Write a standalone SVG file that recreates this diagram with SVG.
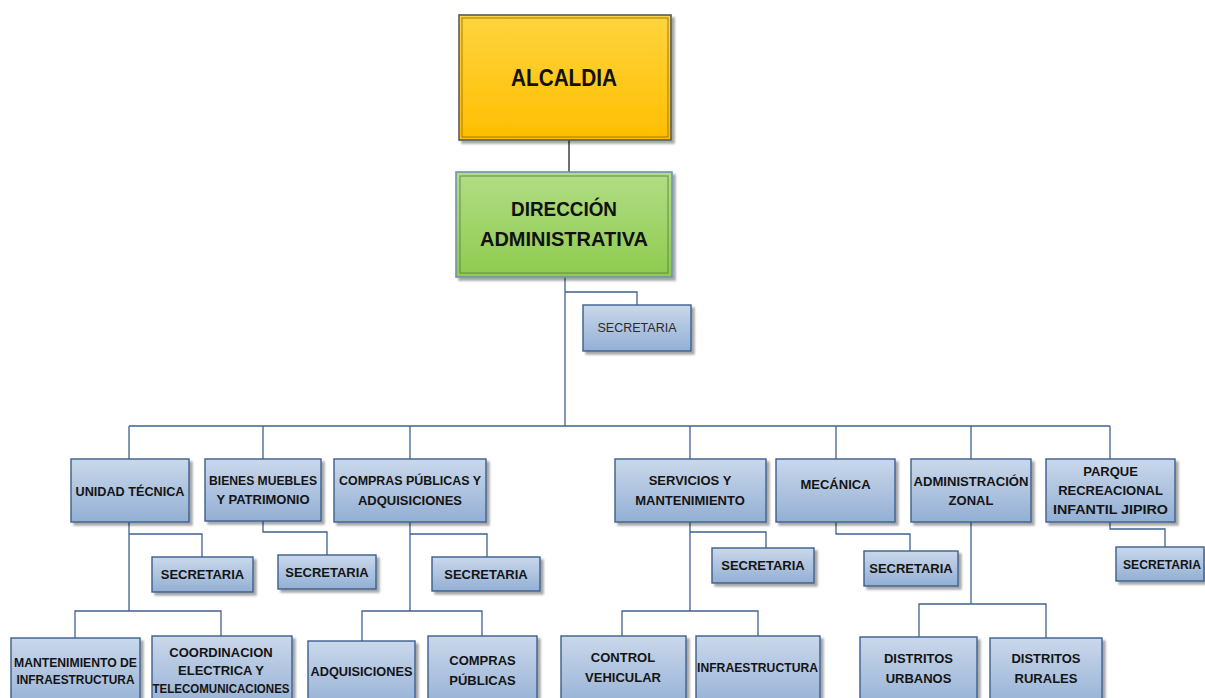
<svg xmlns="http://www.w3.org/2000/svg" width="1205" height="698" viewBox="0 0 1205 698">
  <defs>
    <linearGradient id="gBlue" x1="0" y1="0" x2="0" y2="1">
      <stop offset="0" stop-color="#CAD8EB"/>
      <stop offset="1" stop-color="#93AFD4"/>
    </linearGradient>
    <linearGradient id="gGold" x1="0" y1="0" x2="0" y2="1">
      <stop offset="0" stop-color="#FFD43F"/>
      <stop offset="1" stop-color="#FFBE00"/>
    </linearGradient>
    <linearGradient id="gGreen" x1="0" y1="0" x2="0" y2="1">
      <stop offset="0" stop-color="#B2DD86"/>
      <stop offset="1" stop-color="#8ECB4E"/>
    </linearGradient>
    <filter id="shadow" x="-10%" y="-10%" width="130%" height="130%">
      <feDropShadow dx="3" dy="3" stdDeviation="1.2" flood-color="#000" flood-opacity="0.35"/>
    </filter>
  </defs>
  <style>
    .box { fill: url(#gBlue); stroke: #3B5E8C; stroke-width: 1.4; filter: url(#shadow); }
    .lbl { font-family: "Liberation Sans", Arial, sans-serif; font-weight: bold; font-size: 13px; fill: #141414; text-anchor: middle; }
    .lbl-plain { font-family: "Liberation Sans", Arial, sans-serif; font-size: 12.5px; fill: #2a2a2a; text-anchor: middle; }
    .big { font-family: "Liberation Sans", Arial, sans-serif; font-weight: bold; fill: #111; text-anchor: middle; }
    .wire { fill: none; stroke: #3F6190; stroke-width: 1.3; }
  </style>
  <rect width="1205" height="698" fill="#ffffff"/>

  <!-- connectors -->
  <g id="connectors">
    <path d="M569,140 V172" fill="none" stroke="#222" stroke-width="1.3"/>
    <path class="wire" d="M565,277 V426 M565,292 H637 V305"/>
    <path class="wire" d="M129,426 H1110 M129,426 V459 M263,426 V459 M410,426 V459 M690,426 V459 M836,426 V459 M971,426 V459 M1110,426 V459"/>
    <path class="wire" d="M129,522 V611 M129,534 H202 V557 M75,638 V611 H221 V636"/>
    <path class="wire" d="M263,521 V532 H327 V555"/>
    <path class="wire" d="M410,522 V611 M410,534 H487 V557 M362,641 V611 H482 V636"/>
    <path class="wire" d="M690,522 V611 M690,532 H766 V548 M622,636 V611 H758 V636"/>
    <path class="wire" d="M836,522 V534 H910 V551"/>
    <path class="wire" d="M971,522 V604 M919,637 V604 H1046 V638"/>
    <path class="wire" d="M1110,522 V529 H1165 V547"/>
  </g>

  <!-- top level -->
  <g id="alcaldia">
    <rect x="459" y="15" width="212" height="125" fill="url(#gGold)" stroke="#5A5A5A" stroke-width="1.6" filter="url(#shadow)"/>
    <rect x="462" y="18" width="206" height="119" fill="none" stroke="#8A6A00" stroke-width="0.8"/>
    <text class="big" x="564" y="86" font-size="24" textLength="106" lengthAdjust="spacingAndGlyphs">ALCALDIA</text>
  </g>

  <g id="direccion">
    <rect x="456" y="172" width="216" height="105" fill="url(#gGreen)" stroke="#6F92B4" stroke-width="1.6" filter="url(#shadow)"/>
    <rect x="460" y="176" width="208" height="97" fill="none" stroke="#5E7F4A" stroke-width="0.9"/>
    <text class="big" x="564" y="216" font-size="21" textLength="106" lengthAdjust="spacingAndGlyphs">DIRECCIÓN</text>
    <text class="big" x="564" y="246" font-size="21" textLength="168" lengthAdjust="spacingAndGlyphs">ADMINISTRATIVA</text>
  </g>

  <g id="secretaria-direccion">
    <rect class="box" x="583" y="305" width="108" height="46"/>
    <text class="lbl-plain" x="637" y="332">SECRETARIA</text>
  </g>

  <!-- departments -->
  <g id="unidad-tecnica">
    <rect class="box" x="71" y="459" width="118" height="63"/>
    <text class="lbl" x="130" y="496" textLength="109" lengthAdjust="spacingAndGlyphs">UNIDAD TÉCNICA</text>
  </g>
  <g id="bienes-muebles">
    <rect class="box" x="205" y="459" width="116" height="62"/>
    <text class="lbl" x="263" y="485" textLength="108" lengthAdjust="spacingAndGlyphs">BIENES MUEBLES</text>
    <text class="lbl" x="263" y="504">Y PATRIMONIO</text>
  </g>
  <g id="compras-publicas-adquisiciones">
    <rect class="box" x="334" y="459" width="152" height="63"/>
    <text class="lbl" x="410" y="485" textLength="142" lengthAdjust="spacingAndGlyphs">COMPRAS PÚBLICAS Y</text>
    <text class="lbl" x="410" y="505">ADQUISICIONES</text>
  </g>
  <g id="servicios-mantenimiento">
    <rect class="box" x="615" y="459" width="151" height="63"/>
    <text class="lbl" x="690" y="485">SERVICIOS Y</text>
    <text class="lbl" x="690" y="505">MANTENIMIENTO</text>
  </g>
  <g id="mecanica">
    <rect class="box" x="776" y="459" width="119" height="63"/>
    <text class="lbl" x="835.5" y="489">MECÁNICA</text>
  </g>
  <g id="administracion-zonal">
    <rect class="box" x="911" y="459" width="120" height="63"/>
    <text class="lbl" x="971" y="486" textLength="115" lengthAdjust="spacingAndGlyphs">ADMINISTRACIÓN</text>
    <text class="lbl" x="971" y="505">ZONAL</text>
  </g>
  <g id="parque-jipiro">
    <rect class="box" x="1046" y="459" width="129" height="63"/>
    <text class="lbl" x="1110.5" y="476">PARQUE</text>
    <text class="lbl" x="1110.5" y="495">RECREACIONAL</text>
    <text class="lbl" x="1110.5" y="514" textLength="115" lengthAdjust="spacingAndGlyphs">INFANTIL JIPIRO</text>
  </g>

  <!-- department secretaries -->
  <g id="secretaria-unidad">
    <rect class="box" x="152" y="557" width="101" height="35"/>
    <text class="lbl" x="202.5" y="579">SECRETARIA</text>
  </g>
  <g id="secretaria-bienes">
    <rect class="box" x="278" y="555" width="98" height="34"/>
    <text class="lbl" x="327" y="577">SECRETARIA</text>
  </g>
  <g id="secretaria-compras">
    <rect class="box" x="432" y="557" width="108" height="34"/>
    <text class="lbl" x="486" y="578.5">SECRETARIA</text>
  </g>
  <g id="secretaria-servicios">
    <rect class="box" x="712" y="548" width="102" height="35"/>
    <text class="lbl" x="763" y="570">SECRETARIA</text>
  </g>
  <g id="secretaria-mecanica">
    <rect class="box" x="864" y="551" width="94" height="35"/>
    <text class="lbl" x="911" y="573">SECRETARIA</text>
  </g>
  <g id="secretaria-parque">
    <rect class="box" x="1116" y="547" width="88" height="34"/>
    <text class="lbl" x="1162" y="569" textLength="78" lengthAdjust="spacingAndGlyphs">SECRETARIA</text>
  </g>

  <!-- bottom units -->
  <g id="mantenimiento-infraestructura">
    <rect class="box" x="11" y="638" width="129" height="72"/>
    <text class="lbl" x="75.5" y="666.5" textLength="123" lengthAdjust="spacingAndGlyphs">MANTENIMIENTO DE</text>
    <text class="lbl" x="75.5" y="684" textLength="118" lengthAdjust="spacingAndGlyphs">INFRAESTRUCTURA</text>
  </g>
  <g id="coordinacion-electrica">
    <rect class="box" x="152" y="636" width="140" height="74"/>
    <text class="lbl" x="221" y="656.5">COORDINACION</text>
    <text class="lbl" x="221" y="674.5">ELECTRICA Y</text>
    <text class="lbl" x="221" y="692.5" textLength="137" lengthAdjust="spacingAndGlyphs">TELECOMUNICACIONES</text>
  </g>
  <g id="adquisiciones">
    <rect class="box" x="308" y="641" width="107" height="69"/>
    <text class="lbl" x="361.5" y="676" textLength="102" lengthAdjust="spacingAndGlyphs">ADQUISICIONES</text>
  </g>
  <g id="compras-publicas">
    <rect class="box" x="428" y="636" width="109" height="74"/>
    <text class="lbl" x="482.5" y="665">COMPRAS</text>
    <text class="lbl" x="482.5" y="685">PÚBLICAS</text>
  </g>
  <g id="control-vehicular">
    <rect class="box" x="561" y="636" width="125" height="74"/>
    <text class="lbl" x="623" y="662">CONTROL</text>
    <text class="lbl" x="623" y="682">VEHICULAR</text>
  </g>
  <g id="infraestructura">
    <rect class="box" x="696" y="636" width="124" height="74"/>
    <text class="lbl" x="757.5" y="672" textLength="121" lengthAdjust="spacingAndGlyphs">INFRAESTRUCTURA</text>
  </g>
  <g id="distritos-urbanos">
    <rect class="box" x="860" y="637" width="117" height="73"/>
    <text class="lbl" x="918.5" y="663">DISTRITOS</text>
    <text class="lbl" x="918.5" y="683">URBANOS</text>
  </g>
  <g id="distritos-rurales">
    <rect class="box" x="990" y="638" width="112" height="72"/>
    <text class="lbl" x="1046" y="663">DISTRITOS</text>
    <text class="lbl" x="1046" y="683">RURALES</text>
  </g>
</svg>
